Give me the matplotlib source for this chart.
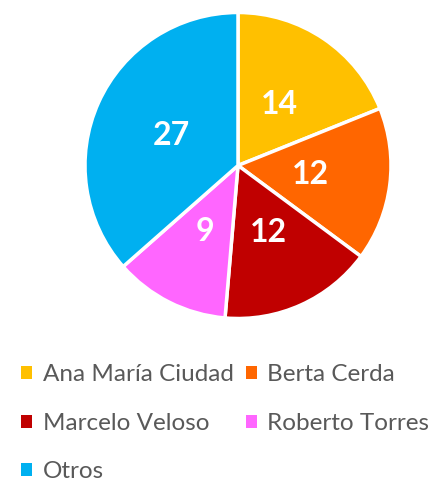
import matplotlib
matplotlib.use("Agg")
import matplotlib.pyplot as plt
from matplotlib.patches import Patch

plt.rcParams['font.family'] = ['Lato', 'DejaVu Sans']

# votes per candidate
names = ["Ana María Ciudad", "Berta Cerda", "Marcelo Veloso",
         "Roberto Torres", "Otros"]
votes = [14, 12, 12, 9, 27]
colors = ["#FFC000", "#FF6600", "#C00000", "#FF66FF", "#00B0F0"]

fig = plt.figure(figsize=(4.33, 4.82), dpi=100)
ax = fig.add_axes([0.1963, 0.3392, 0.7067, 0.6349])

wedges, texts = ax.pie(votes, colors=colors, startangle=90, counterclock=False,
                       labels=[str(v) for v in votes], labeldistance=0.48,
                       wedgeprops=dict(edgecolor="white", linewidth=2.5))
for t in texts:
    t.set_color("white")
    t.set_fontsize(23)
    t.set_fontweight("bold")
    t.set_ha("center")
    t.set_va("center")
ax.set_xlim(-1.0, 1.0)
ax.set_ylim(-1.0, 1.0)
ax.set_aspect("equal")

# legend fills row by row: reorder for ncol=2 column-major layout
order = [0, 2, 4, 1, 3]
handles = [Patch(facecolor=colors[i], edgecolor="none") for i in order]
labels = [names[i] for i in order]
fig.legend(handles, labels, loc="upper left", bbox_to_anchor=(0.027, 0.264),
           ncol=2, frameon=False, fontsize=17.5, labelcolor="#595959",
           handlelength=0.45, handleheight=0.45, handletextpad=0.45,
           columnspacing=0.47, labelspacing=1.13, borderaxespad=0)

fig.savefig("out.png", dpi=100)
